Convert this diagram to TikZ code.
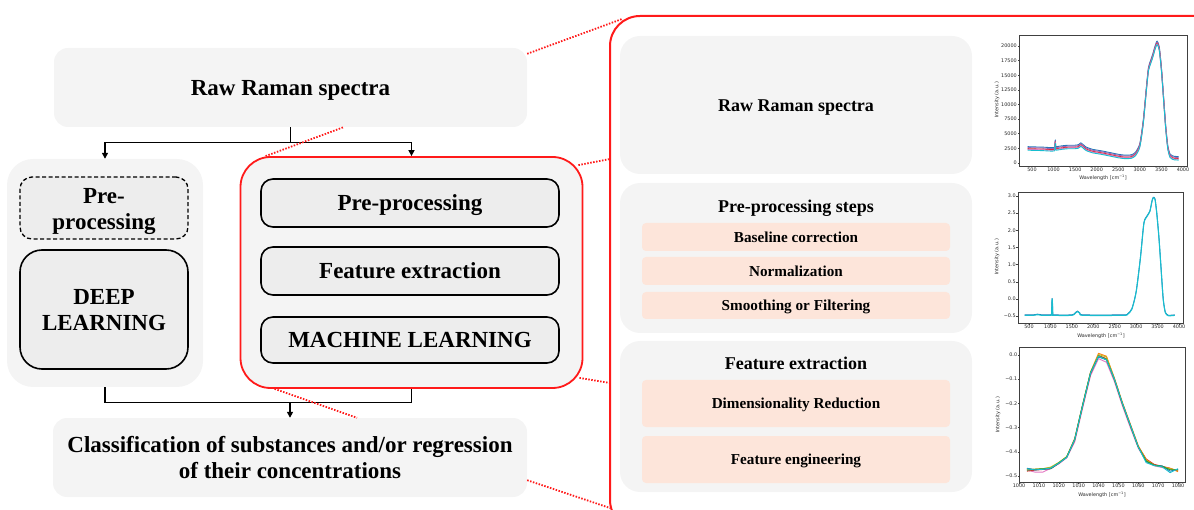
\documentclass[tikz,border=0pt]{standalone}
\usepackage{fontspec}
\setmainfont{Liberation Serif}
\newfontfamily\plotfont{DejaVu Sans}
\usetikzlibrary{arrows.meta,calc}

\definecolor{panelgray}{HTML}{F4F4F4}
\definecolor{boxgray}{HTML}{EDEDED}
\definecolor{salmonbox}{HTML}{FDE5DA}
\definecolor{hlred}{HTML}{FF1A1A}
\definecolor{tabblue}{HTML}{1F77B4}
\definecolor{taborange}{HTML}{FF7F0E}
\definecolor{tabgreen}{HTML}{2CA02C}
\definecolor{tabred}{HTML}{D62728}
\definecolor{tabpurple}{HTML}{9467BD}
\definecolor{tabpink}{HTML}{E377C2}
\definecolor{tabolive}{HTML}{BCBD22}
\definecolor{tabcyan}{HTML}{17BECF}

\tikzset{
  bigfont/.style={font=\fontsize{23}{26}\selectfont\bfseries, text depth=0pt},
  titlefont/.style={font=\fontsize{18}{20}\selectfont\bfseries, text depth=0pt},
  stepfont/.style={font=\fontsize{15.2}{17}\selectfont\bfseries, text depth=0pt},
  panel/.style={fill=panelgray, draw=none, rounded corners=14pt, inner sep=0pt},
  stagebox/.style={fill=boxgray, draw=black, line width=1.6pt, rounded corners=12pt,
    inner sep=0pt, align=center, bigfont},
  mlframe/.style={fill=panelgray, draw=hlred, line width=1.8pt, rounded corners=30pt, inner sep=0pt},
  bigframe/.style={draw=hlred, line width=2pt, rounded corners=30pt, inner sep=0pt},
  subpanel/.style={fill=panelgray, draw=none, rounded corners=20pt, inner sep=0pt},
  stepbox/.style={fill=salmonbox, draw=none, rounded corners=4pt, inner sep=0pt,
    minimum width=308pt, stepfont},
  flow/.style={draw=black, line width=1.5pt},
  flowarrow/.style={flow, -{Triangle[length=6pt,width=6pt]}},
  zoomline/.style={draw=hlred, line width=1.8pt, dash pattern=on 1.5pt off 1.5pt},
  axisframe/.style={draw=black!75, line width=0.5pt},
  ticklabel/.style={font=\plotfont\fontsize{4.9}{5.5}\selectfont, text=black!85, inner sep=0.5pt},
  curve/.style={line width=0.9pt, line join=round},
}

\begin{document}
\begin{tikzpicture}[x=1pt, y=-1pt]
\useasboundingbox (0,0) rectangle (1194,510);
\clip (0,0) rectangle (1194,510);

% ---------------- overview flow chart ----------------
\node[panel, minimum width=473pt, minimum height=79pt, bigfont] (raw) at (290.5,87.5) {Raw Raman spectra};

\node[panel, rounded corners=26pt, minimum width=196pt, minimum height=228pt] (dlpanel) at (105,273) {};
\node[stagebox, dashed, line width=1.3pt, dash pattern=on 4pt off 2.5pt,
  minimum width=168pt, minimum height=62pt] (dlpre) at (104,208) {\raisebox{-2pt}{Pre-}\\\raisebox{-2pt}{processing}};
\node[stagebox, rounded corners=22pt, minimum width=168pt, minimum height=119pt] (dl) at (104,309.5) {DEEP\\LEARNING};

\node[mlframe, minimum width=342pt, minimum height=231pt] (mlpanel) at (411.5,272.5) {};
\node[stagebox, minimum width=298pt, minimum height=48pt] (mlpre) at (410,203) {Pre-processing};
\node[stagebox, minimum width=298pt, minimum height=48pt] (mlfeat) at (410,271) {Feature extraction};
\node[stagebox, minimum width=298pt, minimum height=46pt] (ml) at (410,340) {MACHINE LEARNING};

\node[panel, minimum width=474pt, minimum height=79pt, bigfont, align=center] (cls) at (290,457.5)
  {Classification of substances and/or regression\\of their concentrations};

% split and join of the two branches
\draw[flow] (raw.south) -- ++(0,15.5) coordinate (split);
\draw[flowarrow] (split) -| (dlpanel.north);
\draw[flowarrow] (split) -| (mlpanel.north);
\coordinate (join) at ($(cls.north)+(0,-15.5)$);
\draw[flow] (dlpanel.south) |- (join);
\draw[flow] (mlpanel.south) |- (join);
\draw[flowarrow] (join) -- (cls.north);

% ---------------- detail panel ----------------
\node[bigframe, minimum width=620pt, minimum height=514pt] (detail) at (920,273) {};

\node[subpanel, minimum width=352pt, minimum height=138pt] (p1) at (796,105) {};
\node[titlefont] (p1title) at (796,106) {Raw Raman spectra};

\node[subpanel, minimum width=352pt, minimum height=150pt] (p2) at (796,258) {};
\node[titlefont] (p2title) at (796,206) {Pre-processing steps};
\node[stepbox, minimum height=28pt] (s1) at (796,237) {Baseline correction};
\node[stepbox, minimum height=28pt] (s2) at (796,271) {Normalization};
\node[stepbox, minimum height=27pt] (s3) at (796,305.5) {Smoothing or Filtering};

\node[subpanel, minimum width=352pt, minimum height=151pt] (p3) at (796,416.5) {};
\node[titlefont] (p3title) at (796,363) {Feature extraction};
\node[stepbox, minimum height=47pt] (f1) at (796,403.5) {Dimensionality Reduction};
\node[stepbox, minimum height=47pt] (f2) at (796,459.5) {Feature engineering};

% zoom guides from the overview to the detail panel
\coordinate (d1) at (622,19);
\coordinate (d2) at (610,159);
\coordinate (d3) at (610,383);
\coordinate (d4) at (610,508);
\draw[zoomline] ($(raw.north east)+(0,6)$) -- (d1);
\draw[zoomline] ($(mlpanel.north east)+(-5,9)$) -- (d2);
\draw[zoomline] ($(mlpanel.south east)+(-4,-11)$) -- (d3);
\draw[zoomline] ($(cls.south east)+(0,-17)$) -- (d4);
\draw[zoomline] ($(mlpanel.north west)+(26,0)$) -- ($(raw.south)+(53,0)$);
\draw[zoomline] ($(mlpanel.south west)+(35,0)$) -- ($(cls.north)+(67,0)$);

% ---------------- spectrum plot 1: raw spectra ----------------
\node[ticklabel, rotate=90] (yl1) at (997,100) {Intensity (a.u.)};
\node[ticklabel] (xl1) at (1103,177.5) {Wavelength [cm\textsuperscript{−1}]};
\begin{scope}[shift={(1010.43,163)}, x=0.04314pt, y=5.85pt]
  \def\rawcurve{(400,2.45) (500,2.42) (600,2.4) (700,2.38) (800,2.35) (900,2.3) (1000,2.3)
    (1025,2.35) (1035,3.3) (1042,3.6) (1050,2.5) (1070,2.45) (1200,2.6) (1350,2.7) (1500,2.7)
    (1580,2.8) (1630,3.1) (1680,2.85) (1750,2.4) (1900,2.0) (2100,1.75) (2300,1.45) (2500,1.15)
    (2650,1.0) (2800,1.05) (2900,1.5) (3000,3.0) (3080,7.0) (3150,12.5) (3200,16.0) (3250,17.2)
    (3300,18.3) (3350,19.6) (3400,20.5) (3450,19.5) (3500,16) (3550,11) (3600,6) (3650,2.5)
    (3700,1.2) (3750,0.9) (3800,0.8) (3900,0.75)}
  \draw[curve, tabblue, yshift=2pt] plot[smooth, tension=0.4] coordinates \rawcurve;
  \draw[curve, tabpurple, yshift=1.1pt] plot[smooth, tension=0.4] coordinates \rawcurve;
  \draw[curve, tabred] plot[smooth, tension=0.4] coordinates \rawcurve;
  \draw[curve, tabpink, yshift=-0.7pt] plot[smooth, tension=0.4] coordinates \rawcurve;
  \draw[curve, tabcyan, yshift=-1.5pt] plot[smooth, tension=0.4] coordinates \rawcurve;
  \draw[axisframe] (199,-0.51) rectangle (4093,21.88);
  \foreach \w in {500,1000,...,4000}
    \draw[axisframe] (\w,-0.51) -- ++(0,-1.5pt) node[below, ticklabel] {\w};
  \foreach \v/\l in {0/0,2.5/2500,5/5000,7.5/7500,10/10000,12.5/12500,15/15000,17.5/17500,20/20000}
    \draw[axisframe] (199,\v) -- ++(-1.5pt,0) node[left, ticklabel] {\l};
\end{scope}

% ---------------- spectrum plot 2: pre-processed ----------------
\node[ticklabel, rotate=90] (yl2) at (997,257) {Intensity (a.u.)};
\node[ticklabel] (xl2) at (1101,335.5) {Wavelength [cm\textsuperscript{−1}]};
\begin{scope}[shift={(1007.57,298.9)}, x=0.042857pt, y=34.29pt]
  \def\procurve{(400,-0.48) (600,-0.48) (700,-0.46) (800,-0.48) (1000,-0.48) (1025,-0.45)
    (1035,-0.1) (1040,0.0) (1046,-0.1) (1055,-0.45) (1070,-0.48) (1500,-0.48) (1570,-0.43)
    (1630,-0.37) (1690,-0.43) (1760,-0.48) (2700,-0.48) (2800,-0.45) (2900,-0.3) (3000,0.2)
    (3100,1.2) (3180,2.2) (3250,2.4) (3320,2.55) (3370,2.85) (3400,2.95) (3440,2.9) (3480,2.5)
    (3530,1.8) (3580,0.9) (3630,0.0) (3680,-0.4) (3750,-0.49) (3900,-0.48)}
  \draw[curve, tabblue, yshift=0.5pt] plot[smooth, tension=0.4] coordinates \procurve;
  \draw[curve, tabcyan, line width=1.1pt] plot[smooth, tension=0.4] coordinates \procurve;
  \draw[axisframe] (243,-0.703) rectangle (4093,3.118);
  \foreach \w in {500,1000,...,4000}
    \draw[axisframe] (\w,-0.703) -- ++(0,-1.5pt) node[below, ticklabel] {\w};
  \foreach \v/\l in {-0.5/−0.5,0/0.0,0.5/0.5,1/1.0,1.5/1.5,2/2.0,2.5/2.5,3/3.0}
    \draw[axisframe] (243,\v) -- ++(-1.5pt,0) node[left, ticklabel] {\l};
\end{scope}

% ---------------- spectrum plot 3: selected band ----------------
\node[ticklabel, rotate=90] (yl3) at (998,415) {Intensity (a.u.)};
\node[ticklabel] (xl3) at (1102,494.5) {Wavelength [cm\textsuperscript{−1}]};
\begin{scope}[shift={(-968.5,355)}, x=1.9875pt, y=242pt]
  \draw[curve, tabpink] plot coordinates {(1004,-0.475) (1008,-0.484) (1012,-0.484) (1016,-0.468)
    (1020,-0.45) (1024,-0.425) (1028,-0.36) (1032,-0.22) (1036,-0.085) (1040,-0.015) (1044,-0.03)
    (1048,-0.11) (1052,-0.21) (1056,-0.3) (1060,-0.385) (1064,-0.44) (1068,-0.458) (1072,-0.465)
    (1076,-0.472) (1080,-0.478)};
  \draw[curve, tabred] plot coordinates {(1004,-0.48) (1008,-0.476) (1012,-0.473) (1016,-0.47)
    (1020,-0.448) (1024,-0.422) (1028,-0.352) (1032,-0.212) (1036,-0.078) (1040,-0.002) (1044,-0.015)
    (1048,-0.1) (1052,-0.2) (1056,-0.29) (1060,-0.378) (1064,-0.43) (1068,-0.452) (1072,-0.46)
    (1076,-0.468) (1080,-0.48)};
  \draw[curve, taborange] plot coordinates {(1004,-0.472) (1008,-0.472) (1012,-0.47) (1016,-0.465)
    (1020,-0.445) (1024,-0.42) (1028,-0.345) (1032,-0.205) (1036,-0.07) (1040,0.007) (1044,-0.005)
    (1048,-0.095) (1052,-0.195) (1056,-0.285) (1060,-0.375) (1064,-0.432) (1068,-0.455) (1072,-0.462)
    (1076,-0.468) (1080,-0.482)};
  \draw[curve, tabolive] plot coordinates {(1004,-0.47) (1008,-0.473) (1012,-0.47) (1016,-0.463)
    (1020,-0.444) (1024,-0.42) (1028,-0.35) (1032,-0.21) (1036,-0.072) (1040,0.002) (1044,-0.008)
    (1048,-0.098) (1052,-0.198) (1056,-0.288) (1060,-0.378) (1064,-0.436) (1068,-0.456) (1072,-0.462)
    (1076,-0.47) (1080,-0.476)};
  \draw[curve, tabblue] plot coordinates {(1004,-0.468) (1008,-0.474) (1012,-0.472) (1016,-0.47)
    (1020,-0.447) (1024,-0.423) (1028,-0.35) (1032,-0.208) (1036,-0.074) (1040,-0.008) (1044,-0.02)
    (1048,-0.1) (1052,-0.2) (1056,-0.29) (1060,-0.38) (1064,-0.44) (1068,-0.456) (1072,-0.458)
    (1076,-0.48) (1080,-0.472)};
  \draw[curve, tabgreen] plot coordinates {(1004,-0.476) (1008,-0.472) (1012,-0.47) (1016,-0.468)
    (1020,-0.446) (1024,-0.421) (1028,-0.348) (1032,-0.206) (1036,-0.072) (1040,-0.004) (1044,-0.018)
    (1048,-0.102) (1052,-0.202) (1056,-0.292) (1060,-0.38) (1064,-0.438) (1068,-0.455) (1072,-0.46)
    (1076,-0.474) (1080,-0.474)};
  \draw[curve, tabcyan] plot coordinates {(1004,-0.47) (1008,-0.475) (1012,-0.472) (1016,-0.467)
    (1020,-0.447) (1024,-0.423) (1028,-0.35) (1032,-0.21) (1036,-0.075) (1040,-0.005) (1044,-0.02)
    (1048,-0.1) (1052,-0.2) (1056,-0.29) (1060,-0.38) (1064,-0.445) (1068,-0.457) (1072,-0.462)
    (1076,-0.486) (1080,-0.47)};
  \draw[axisframe] (1000.2,-0.525) rectangle (1083.5,0.033);
  \foreach \w in {1000,1010,...,1080}
    \draw[axisframe] (\w,-0.525) -- ++(0,-1.5pt) node[below, ticklabel] {\w};
  \foreach \v/\l in {0/0.0,-0.1/−0.1,-0.2/−0.2,-0.3/−0.3,-0.4/−0.4,-0.5/−0.5}
    \draw[axisframe] (1000.2,\v) -- ++(-1.5pt,0) node[left, ticklabel] {\l};
\end{scope}
\end{tikzpicture}
\end{document}
